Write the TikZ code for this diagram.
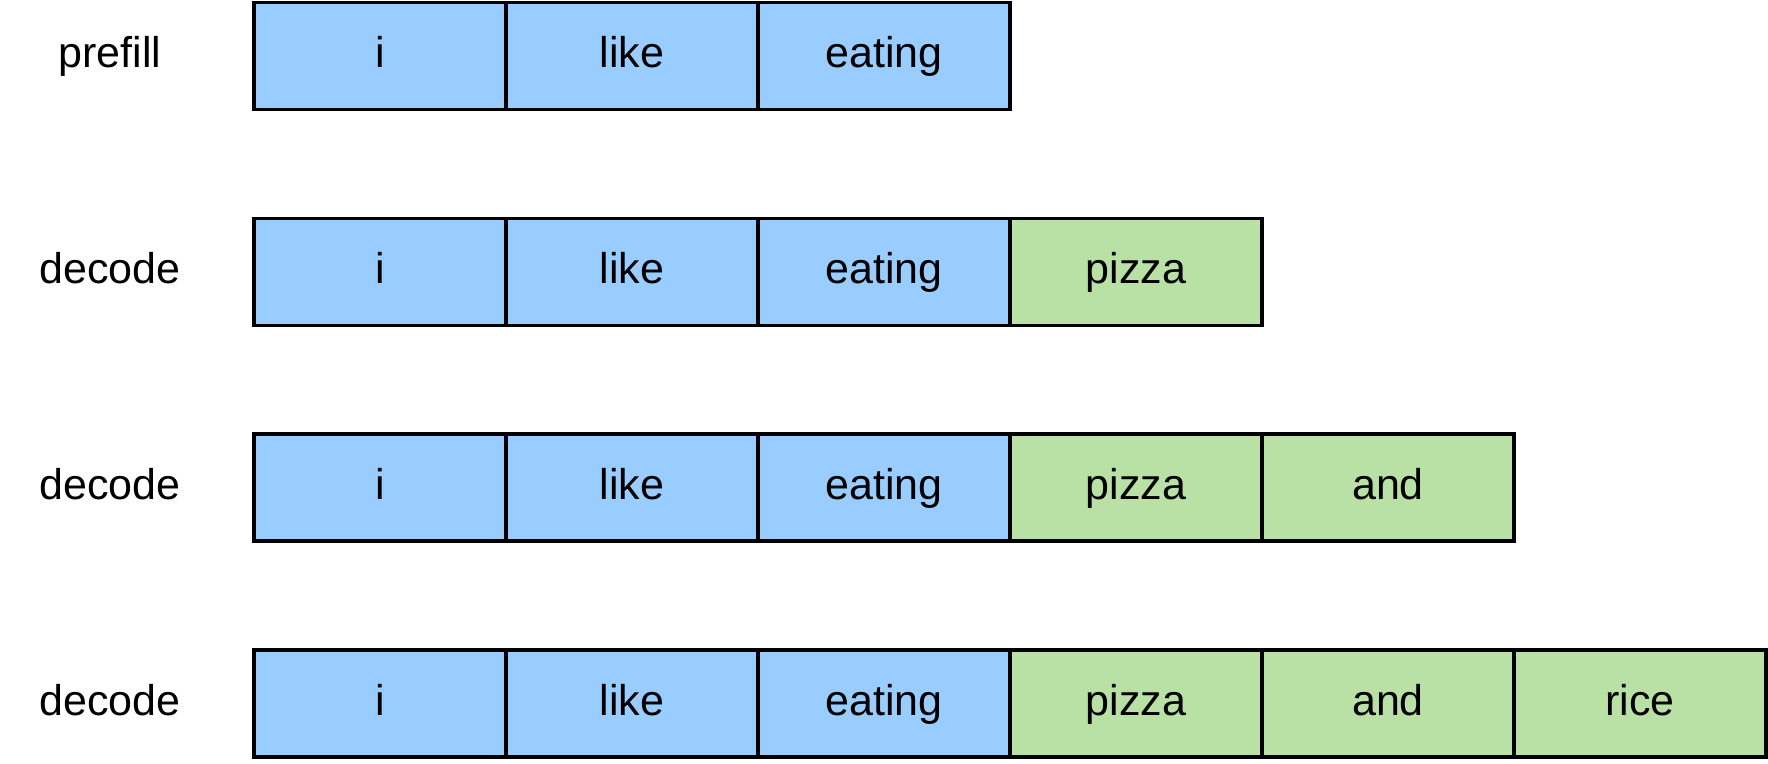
\documentclass[tikz,border=0pt]{standalone}
\usepackage{fontspec}
\setmainfont{Liberation Sans}
\usetikzlibrary{positioning}

\begin{document}
\begin{tikzpicture}[x=0.5pt,y=-0.5pt,
    every node/.style={font=\fontsize{21.5}{25}\selectfont,text height=1.4em,text depth=0.21em},
    tok/.style={draw,line width=1.6pt,fill=inblue,minimum width=126pt,minimum height=53.5pt,
      inner sep=0pt,outer sep=0pt},
    gen/.style={tok,fill=outgreen}]
    \definecolor{inblue}{HTML}{99CCFF}
    \definecolor{outgreen}{HTML}{B9E0A5}
    \useasboundingbox (0,0) rectangle (1768,764);

    % prefill
    \draw (110,56) node (l0) {prefill} ;
    \node[tok] (a1) at (380,56) {i};
    \node[tok,right=0pt of a1] (a2) {like};
    \node[tok,right=0pt of a2] (a3) {eating};

    % decode 1
    \draw (110,271.8) node (l1) {decode} ;
    \node[tok] (b1) at (380,271.8) {i};
    \node[tok,right=0pt of b1] (b2) {like};
    \node[tok,right=0pt of b2] (b3) {eating};
    \node[gen,right=0pt of b3] (b4) {pizza};

    % decode 2
    \draw (110,487.6) node (l2) {decode} ;
    \node[tok] (c1) at (380,487.6) {i};
    \node[tok,right=0pt of c1] (c2) {like};
    \node[tok,right=0pt of c2] (c3) {eating};
    \node[gen,right=0pt of c3] (c4) {pizza};
    \node[gen,right=0pt of c4] (c5) {and};

    % decode 3
    \draw (110,703.4) node (l3) {decode} ;
    \node[tok] (d1) at (380,703.4) {i};
    \node[tok,right=0pt of d1] (d2) {like};
    \node[tok,right=0pt of d2] (d3) {eating};
    \node[gen,right=0pt of d3] (d4) {pizza};
    \node[gen,right=0pt of d4] (d5) {and};
    \node[gen,right=0pt of d5] (d6) {rice};
  \end{tikzpicture}
\end{document}
